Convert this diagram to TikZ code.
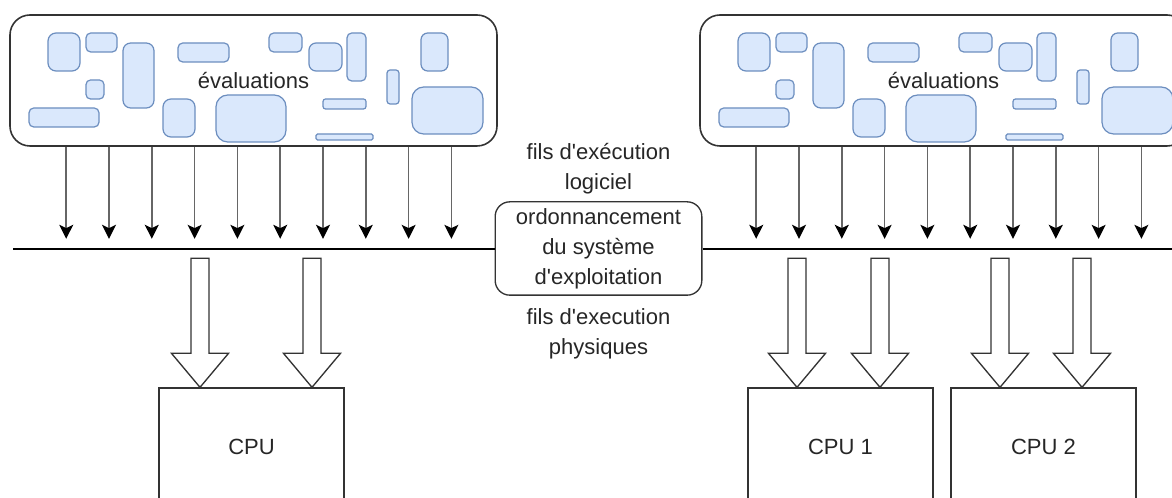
\documentclass[tikz,border=0pt]{standalone}
\usepackage{fontspec}
\setmainfont{Liberation Sans}
\usetikzlibrary{arrows.meta,calc,positioning}
\definecolor{taskfill}{HTML}{DAE8FC}
\definecolor{taskdraw}{HTML}{6C8EBF}
\newcommand\apos{\textquotesingle}

\tikzset{
  evals/.style={draw=black!80,line width=1.2pt,rounded corners=15pt,
    minimum width=365.25pt,minimum height=98.25pt,inner sep=0pt},
  task/.style={draw=taskdraw,fill=taskfill,line width=0.9pt},
  thread/.style={draw=black!60,line width=1.1pt,
    -{Stealth[black,length=10.5pt,width=10.5pt,inset=2.5pt]}},
  bus/.style={draw=black,line width=0.9pt},
  sched/.style={draw=black!80,line width=1pt,rounded corners=11pt,align=center,
    minimum width=155pt,minimum height=70pt,inner sep=0pt},
  lbl/.style={align=center,inner sep=0pt},
  cpu/.style={draw=black!80,line width=1pt,minimum width=138.75pt,minimum height=88.5pt},
  hw/.style={draw=black!80,line width=1pt,fill=white,line join=miter}
}
% fat arrow ending on top of a cpu: #1 node, #2 shift of the tip
\newcommand\hwthread[2]{%
  \draw[hw] ($(#1.north)+(#2,0)$) -- ++(-28.5,-34) -- ++(19.5,0) -- ++(0,-95)
    -- ++(18,0) -- ++(0,95) -- ++(19.5,0) -- cycle;}

\begin{document}
\begin{tikzpicture}[x=0.75pt,y=-0.75pt,font=\fontsize{16.5}{22.5}\selectfont,text=black!85]
\useasboundingbox (0,0) rectangle (1172,498);
\clip (0,0) rectangle (1172,498);

% the two sets of evaluations
\foreach \dx/\name in {0/evalL,690/evalR}{
  \node[evals] (\name) at (253.5+\dx,80.5) {évaluations};
  \foreach \xa/\ya/\xb/\yb in {48/33/80/71, 86/33/117/52, 123/43/154/108,
      178/43/229/62, 86/80/104/99, 29/108/99/127, 163/99/195/137,
      216/95/286/142, 269/33/302/52, 309/43/342/71, 347/33/366/81,
      387/70/399/104, 323/99/366/109, 316/134/373/140, 421/33/448/71,
      412/87/483/134}{
    \pgfmathsetmacro\r{0.25*min(\xb-\xa,\yb-\ya)}
    \draw[task,rounded corners=\r*0.75pt] (\xa+\dx,\ya) rectangle (\xb+\dx,\yb);
  }
  \foreach \i in {0,...,9}
    \draw[thread] ($(\name.south west)+(57+42.8*\i,0)$) -- ++(0,92);
}

% scheduler on the line
\node[sched] (sched) at (598.5,248.5) {ordonnancement\\du système\\d\apos exploitation};
\coordinate (lineL) at (13,249);
\coordinate (lineR) at (1172,249);
\draw[bus] (lineL) -- (lineL -| sched.west);
\draw[bus] (sched.east |- lineR) -- (lineR);

\node[lbl,on grid,above=60pt of sched] (soft) {fils d\apos exécution\\logiciel};
\node[lbl,on grid,below=64pt of sched] (phys) {fils d\apos execution\\physiques};

% processors
\node[cpu] (cpu) at (251.5,447) {CPU};
\node[cpu] (cpu1) at (840.5,447) {CPU 1};
\node[cpu] (cpu2) at (1043.5,447) {CPU 2};

\hwthread{cpu}{-51.5}
\hwthread{cpu}{60.5}
\hwthread{cpu1}{-43.5}
\hwthread{cpu1}{39.5}
\hwthread{cpu2}{-43.5}
\hwthread{cpu2}{38.5}
\end{tikzpicture}
\end{document}
